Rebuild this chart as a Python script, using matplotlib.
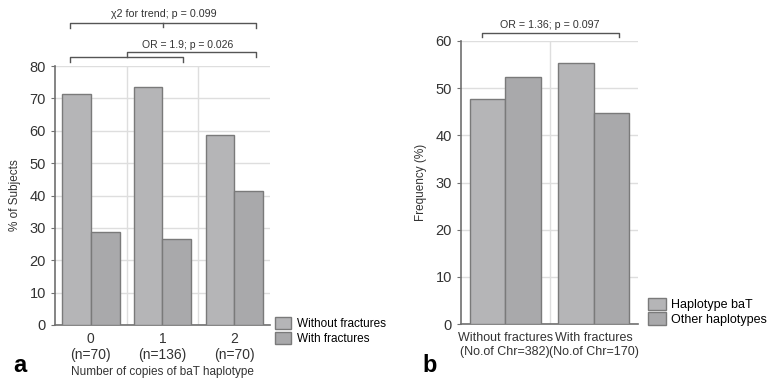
import numpy as np
import matplotlib
matplotlib.use('Agg')
from matplotlib import pyplot as plt

plt.rcParams['font.family'] = ['Liberation Sans', 'DejaVu Sans']

# panel a data
copies = ['0\n(n=70)', '1\n(n=136)', '2\n(n=70)']
without_fx = [71.4, 73.5, 58.6]
with_fx = [28.6, 26.5, 41.4]

# panel b data
groups = ['Without fractures\n(No.of Chr=382)', 'With fractures\n(No.of Chr=170)']
hap_bat = [47.6, 55.3]
other_hap = [52.4, 44.7]

c1 = '#b5b5b7'
c2 = '#a9a9ab'
ec = '#7a7a7a'
gc = '#dedede'
tc = '#333333'

fig = plt.figure(figsize=(7.8, 3.8), dpi=100)


def style(ax):
    for s in ['top', 'right']:
        ax.spines[s].set_visible(False)
    for s in ['left', 'bottom']:
        ax.spines[s].set_color('#707070')
        ax.spines[s].set_linewidth(1.2)
    ax.tick_params(axis='y', length=3, colors='#707070', labelcolor=tc, labelsize=10.5)
    ax.tick_params(axis='x', length=0, labelcolor=tc, pad=5)
    ax.set_axisbelow(True)


def bracket(fig, x0, x1, y, h, col='#555555'):
    fig.add_artist(plt.Line2D([x0, x0, x1, x1], [y - h, y, y, y - h],
                              transform=fig.transFigure, color=col, lw=1.0))


# ---- panel a ----
ax1 = fig.add_axes([55/780, 1-325/380, 215/780, 259/380])
x = np.arange(len(copies))
w = 0.4
ax1.bar(x - w/2, without_fx, w, color=c1, edgecolor=ec, lw=1, label='Without fractures', zorder=3)
ax1.bar(x + w/2, with_fx, w, color=c2, edgecolor=ec, lw=1, label='With fractures', zorder=3)
ax1.set_xlim(-0.5, 2.5)
ax1.set_ylim(0, 80)
ax1.set_yticks(np.arange(0, 81, 10))
ax1.set_xticks(x)
ax1.set_xticklabels(copies, fontsize=10)
ax1.yaxis.grid(True, color=gc, lw=1)
for v in [0.5, 1.5]:
    ax1.axvline(v, color=gc, lw=1, zorder=0)
style(ax1)
ax1.set_xlabel('Number of copies of baT haplotype', fontsize=8.5, color=tc, labelpad=3)
ax1.set_ylabel('% of Subjects', fontsize=8.5, color=tc, labelpad=6)
ax1.legend(loc='lower left', bbox_to_anchor=(1.0, -0.095), frameon=False, fontsize=8.5,
           handlelength=1.4, handleheight=1.2, handletextpad=0.5, labelspacing=0.12,
           borderaxespad=0)

# brackets panel a
bracket(fig, 70/780, 256/780, 1-23/380, 5/380)
fig.add_artist(plt.Line2D([163/780, 163/780], [1-23/380, 1-27/380], transform=fig.transFigure,
                          color='#555555', lw=1.0))
fig.text(164/780, 1-14/380, 'χ2 for trend; p = 0.099', ha='center', va='center', fontsize=7.7, color=tc)
bracket(fig, 70/780, 183/780, 1-57/380, 5/380)
bracket(fig, 127/780, 256/780, 1-52/380, 5/380)
fig.text(188/780, 1-45/380, 'OR = 1.9; p = 0.026', ha='center', va='center', fontsize=7.5, color=tc)
fig.text(20/780, 1-365/380, 'a', ha='center', va='center', fontsize=17, fontweight='bold')

# ---- panel b ----
ax2 = fig.add_axes([461/780, 1-324/380, 177/780, 283/380])
xb = np.arange(len(groups))
ax2.bar(xb - w/2, hap_bat, w, color=c1, edgecolor=ec, lw=1, label='Haplotype baT', zorder=3)
ax2.bar(xb + w/2, other_hap, w, color=c2, edgecolor=ec, lw=1, label='Other haplotypes', zorder=3)
ax2.set_xlim(-0.5, 1.5)
ax2.set_ylim(0, 60)
ax2.set_yticks(np.arange(0, 61, 10))
ax2.set_xticks(xb)
ax2.set_xticklabels(groups, fontsize=9)
ax2.yaxis.grid(True, color=gc, lw=1)
ax2.axvline(0.5, color=gc, lw=1, zorder=0)
style(ax2)
ax2.tick_params(axis='x', pad=6)
ax2.set_ylabel('Frequency (%)', fontsize=8.5, color=tc, labelpad=6)
ax2.legend(loc='lower left', bbox_to_anchor=(1.03, -0.025), frameon=False, fontsize=9,
           handlelength=1.4, handleheight=1.2, handletextpad=0.4, labelspacing=0.1,
           borderaxespad=0)

bracket(fig, 482/780, 619/780, 1-33/380, 4/380)
fig.text(550/780, 1-25/380, 'OR = 1.36; p = 0.097', ha='center', va='center', fontsize=7.7, color=tc)
fig.text(430/780, 1-365/380, 'b', ha='center', va='center', fontsize=17, fontweight='bold')

fig.savefig('out.png', dpi=100)
